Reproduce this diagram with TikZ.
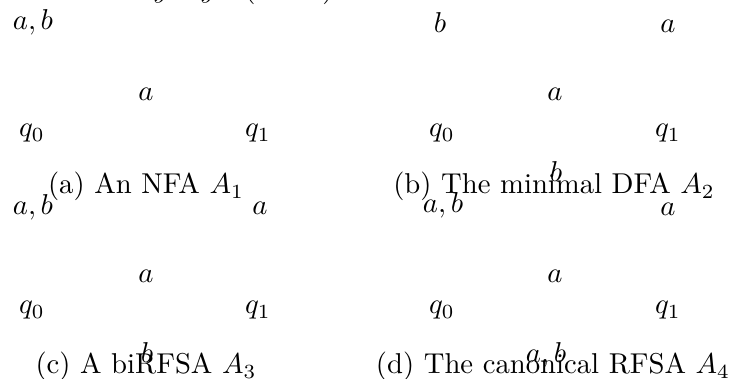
\documentclass[tikz,border=0pt]{standalone}
\begin{document}
\begin{tikzpicture}[x=0.3484pt,y=-0.3484pt,
  lbl/.style={anchor=base,inner sep=0pt,outer sep=0pt},
  stlbl/.style={anchor=base,inner sep=0pt,outer sep=0pt},
  captxt/.style={anchor=base,inner sep=0pt,outer sep=0pt}]
\useasboundingbox (0,0) rectangle (735,379);
% fragments of text above the picture
\node[lbl] (f1) at (161,-2) {$y$};
\node[lbl] (f2) at (208,-2) {$y$};
\node[lbl] (f3) at (250,-2) {(};
\node[lbl] (f4) at (328,-2) {)};
% (a)
\node[lbl] (a1) at (33,30) {$a,b$};
\node[lbl] (a2) at (146,101) {$a$};
\node[stlbl] (aq0) at (32,137) {$q_0$};
\node[stlbl] (aq1) at (258,137) {$q_1$};
\node[captxt] (ca) at (146,194) {(a) An NFA $A_1$};
% (b)
\node[lbl] (b1) at (440,33) {$b$};
\node[lbl] (b2) at (668,33) {$a$};
\node[lbl] (b3) at (555,101) {$a$};
\node[stlbl] (bq0) at (442,137) {$q_0$};
\node[stlbl] (bq1) at (668,137) {$q_1$};
\node[lbl] (b4) at (556,182) {$b$};
\node[captxt] (cb) at (554,194) {(b) The minimal DFA $A_2$};
% (c)
\node[lbl] (c1) at (33,215) {$a,b$};
\node[lbl] (c2) at (260,215) {$a$};
\node[lbl] (c3) at (146,283) {$a$};
\node[stlbl] (cq0) at (32,314) {$q_0$};
\node[stlbl] (cq1) at (258,314) {$q_1$};
\node[lbl] (c4) at (147,362) {$b$};
\node[captxt] (cc) at (146,374) {(c) A biRFSA $A_3$};
% (d)
\node[lbl] (d1) at (443,213) {$a,b$};
\node[lbl] (d2) at (668,216) {$a$};
\node[lbl] (d3) at (555,283) {$a$};
\node[stlbl] (dq0) at (442,314) {$q_0$};
\node[stlbl] (dq1) at (668,314) {$q_1$};
\node[lbl] (d4) at (546,362) {$a,b$};
\node[captxt] (cd) at (553,374) {(d) The canonical RFSA $A_4$};
\end{tikzpicture}
\end{document}
